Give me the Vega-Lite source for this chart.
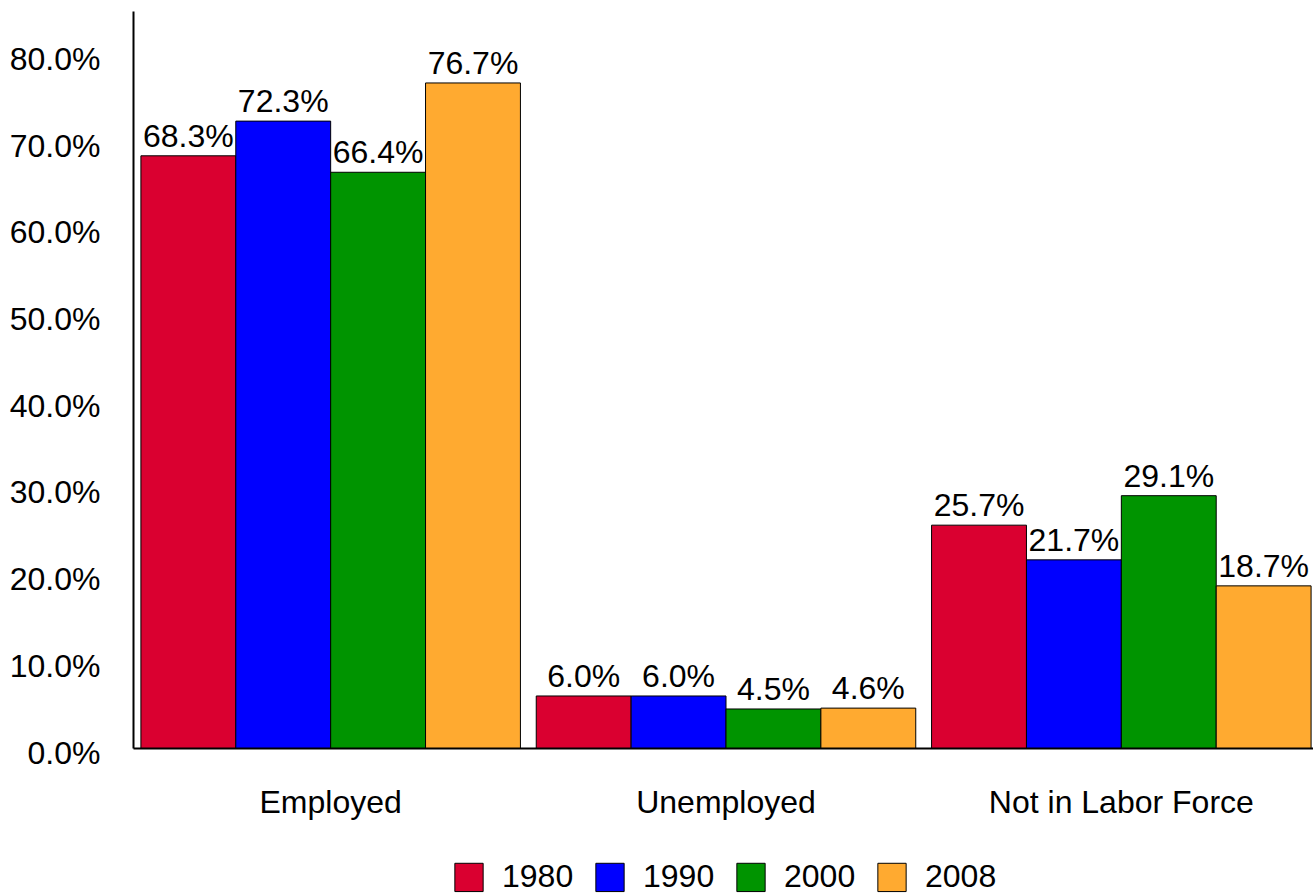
{
  "$schema": "https://vega.github.io/schema/vega-lite/v6.json",
  "width": 1186,
  "height": 737,
  "autosize": "none",
  "padding": {"left": 133, "top": 11, "right": 0, "bottom": 145},
  "background": "white",
  "config": {
    "view": {"stroke": null},
    "font": "Liberation Sans",
    "text": {"font": "Liberation Sans"}
  },
  "data": {
    "values": [
      {"status": "Employed", "year": "1980", "value": 0.683},
      {"status": "Employed", "year": "1990", "value": 0.723},
      {"status": "Employed", "year": "2000", "value": 0.664},
      {"status": "Employed", "year": "2008", "value": 0.767},
      {"status": "Unemployed", "year": "1980", "value": 0.060},
      {"status": "Unemployed", "year": "1990", "value": 0.060},
      {"status": "Unemployed", "year": "2000", "value": 0.045},
      {"status": "Unemployed", "year": "2008", "value": 0.046},
      {"status": "Not in Labor Force", "year": "1980", "value": 0.257},
      {"status": "Not in Labor Force", "year": "1990", "value": 0.217},
      {"status": "Not in Labor Force", "year": "2000", "value": 0.291},
      {"status": "Not in Labor Force", "year": "2008", "value": 0.187}
    ]
  },
  "encoding": {
    "x": {
      "field": "status",
      "type": "nominal",
      "sort": ["Employed", "Unemployed", "Not in Labor Force"],
      "scale": {"paddingInner": 0.04, "paddingOuter": 0.02},
      "axis": {
        "title": null,
        "labelAngle": 0,
        "labelFontSize": 32,
        "labelColor": "black",
        "labelPadding": 39,
        "labelLimit": 0,
        "ticks": false,
        "domainColor": "black",
        "domainWidth": 2,
        "labelFont": "Liberation Sans"
      }
    },
    "xOffset": {"field": "year", "type": "nominal", "scale": {"paddingInner": 0, "paddingOuter": 0}},
    "y": {
      "field": "value",
      "type": "quantitative",
      "scale": {"domain": [0, 0.85], "nice": false},
      "axis": {
        "title": null,
        "format": ".1%",
        "values": [0, 0.1, 0.2, 0.3, 0.4, 0.5, 0.6, 0.7, 0.8],
        "grid": false,
        "ticks": false,
        "labelFontSize": 32,
        "labelColor": "black",
        "labelPadding": 33,
        "labelOffset": 5,
        "domainColor": "black",
        "domainWidth": 2,
        "labelFont": "Liberation Sans"
      }
    }
  },
  "layer": [
    {
      "mark": {"type": "bar", "stroke": "black", "strokeWidth": 1},
      "encoding": {
        "color": {
          "field": "year",
          "type": "nominal",
          "scale": {
            "domain": ["1980", "1990", "2000", "2008"],
            "range": ["#DA0030", "#0000FF", "#009400", "#FFAA30"]
          },
          "legend": {
            "title": null,
            "orient": "none",
            "direction": "horizontal",
            "legendX": 320,
            "legendY": 850,
            "symbolType": "square",
            "symbolSize": 800,
            "symbolStrokeColor": "black",
            "symbolStrokeWidth": 1,
            "symbolOpacity": 1,
            "labelFontSize": 32,
            "labelColor": "black",
            "labelFont": "Liberation Sans",
            "columnPadding": 19,
            "labelOffset": 17
          }
        }
      }
    },
    {
      "mark": {"type": "text", "baseline": "alphabetic", "dy": -9, "fontSize": 32, "color": "black"},
      "encoding": {
        "text": {"field": "value", "type": "quantitative", "format": ".1%"}
      }
    }
  ]
}
